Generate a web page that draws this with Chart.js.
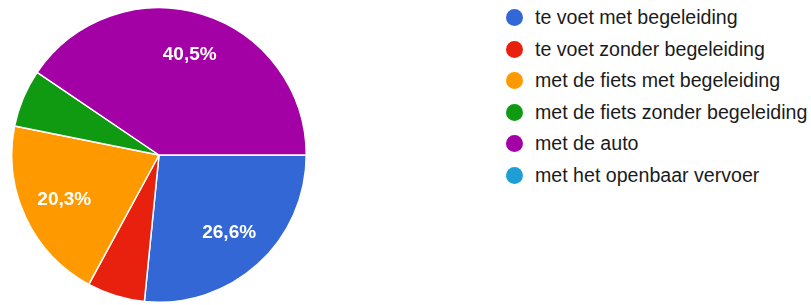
<!DOCTYPE html>
<html>
<head>
<meta charset="utf-8">
<script src="https://cdn.jsdelivr.net/npm/chart.js@4/dist/chart.umd.min.js"></script>
<style>
  body { margin: 0; background: #fff; width: 811px; height: 305px; overflow: hidden; }
  #pieBox { position: absolute; left: 11px; top: 7px; width: 296px; height: 296px; }
  #legend { position: absolute; left: 506px; top: 2px; font-family: "Liberation Sans", Arial, sans-serif; font-size: 19.6px; color: #1b1b1b; }
  .item { height: 31.6px; line-height: 31.6px; white-space: nowrap; position: relative; padding-left: 29px; }
  .dot { position: absolute; left: 0; top: 7px; width: 17px; height: 17px; border-radius: 50%; }
</style>
</head>
<body>
<div id="pieBox"><canvas id="pie"></canvas></div>
<div id="legend"></div>
<script>
// answers (Dutch survey), counts out of 79
labels = ["te voet met begeleiding", "te voet zonder begeleiding", "met de fiets met begeleiding",
          "met de fiets zonder begeleiding", "met de auto", "met het openbaar vervoer"];
counts = [21, 5, 16, 5, 32, 0];
colors = ["#3367d6", "#e8200e", "#ff9900", "#0f9a12", "#a300a6", "#1e9ed4"];

// draw percent text inside big slices
const sliceLabels = {
    id: "sliceLabels",
    afterDatasetsDraw(chart) {
        const ctx = chart.ctx;
        const total = counts.reduce((a, b) => a + b, 0);
        const meta = chart.getDatasetMeta(0);
        ctx.save();
        ctx.fillStyle = "#fff";
        ctx.font = "bold 19px 'Liberation Sans', Arial, sans-serif";
        ctx.textAlign = "center";
        ctx.textBaseline = "middle";
        meta.data.forEach((arc, i) => {
            const pct = counts[i] / total * 100;
            if (pct < 10) return;
            const mid = (arc.startAngle + arc.endAngle) / 2;
            const r = arc.outerRadius * 0.71;
            const txt = pct.toFixed(1).replace(".", ",") + "%";
            ctx.fillText(txt, arc.x + Math.cos(mid) * r, arc.y + Math.sin(mid) * r);
        });
        ctx.restore();
    }
};

const chart = new Chart(document.getElementById("pie"), {
    type: "pie",
    data: {
        labels: labels,
        datasets: [{
            data: counts,
            backgroundColor: colors,
            borderColor: "#fff",
            borderWidth: 1.5
        }]
    },
    options: {
        responsive: true,
        maintainAspectRatio: false,
        animation: false,
        rotation: 90,
        layout: { padding: 0 },
        plugins: {
            legend: { display: false },
            tooltip: { enabled: false }
        }
    },
    plugins: [sliceLabels]
});

const legendEl = document.getElementById("legend");
labels.forEach((name, i) => {
    const row = document.createElement("div");
    row.className = "item";
    const dot = document.createElement("span");
    dot.className = "dot";
    dot.style.background = colors[i];
    row.appendChild(dot);
    row.appendChild(document.createTextNode(name));
    legendEl.appendChild(row);
});
</script>
</body>
</html>
